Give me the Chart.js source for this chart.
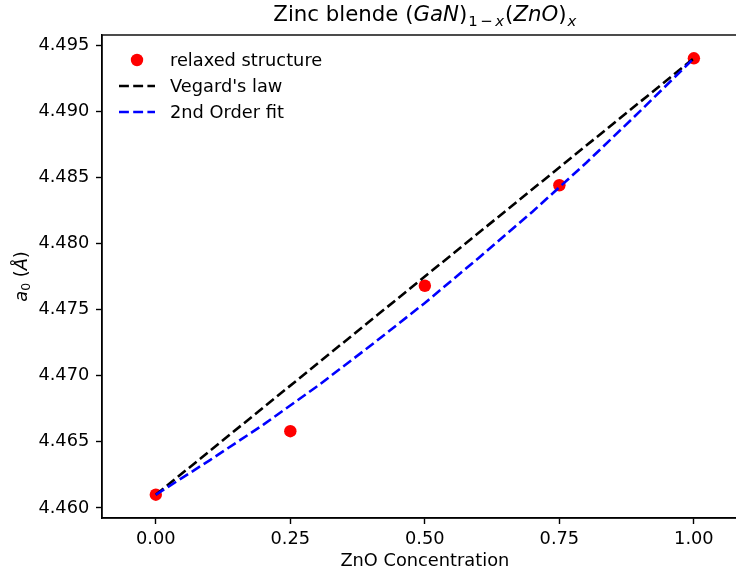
<!DOCTYPE html>
<html>
<head>
<meta charset="utf-8">
<script src="https://cdn.jsdelivr.net/npm/chart.js@4.4.0/dist/chart.umd.min.js"></script>
<style>
  html, body { margin: 0; padding: 0; background: #fff; overflow: hidden; }
  #wrap { width: 736px; height: 577px; overflow: hidden; }
</style>
</head>
<body>
<div id="wrap"><canvas id="chart" width="760" height="577"></canvas></div>
<script>
// Lattice constant data for zinc blende (GaN)1-x(ZnO)x
const concentration = [0, 0.25, 0.5, 0.75, 1.0];
const latticeRelaxed = [4.4610, 4.4658, 4.4768, 4.4844, 4.4940];

// Vegard's law: straight line between the end members
const vegardX = [0, 1.0];
const vegardY = [4.4610, 4.4940];

// 2nd order fit
const fitX = [0, 0.1, 0.2, 0.3, 0.4, 0.5, 0.6, 0.7, 0.8, 0.9, 1.0];
const fitY = [4.4610, 4.4636, 4.4663, 4.4692, 4.4723, 4.4755, 4.4789, 4.4824, 4.4861, 4.4900, 4.4940];

// Tick labels
const xTicks = [0, 0.25, 0.5, 0.75, 1.0];
const yTicks = [4.460, 4.465, 4.470, 4.475, 4.480, 4.485, 4.490, 4.495];

const FONT = "'DejaVu Sans', sans-serif";
const FS = 17.8;          // 10pt text
const DASH = [9.9, 4.3];

function toPoints(xs, ys) {
    return xs.map((x, i) => ({ x: x, y: ys[i] }));
}

// Draws a run of text pieces (normal / italic / subscript) centered on x
function drawRuns(ctx, runs, x, y) {
    let total = 0;
    runs.forEach(r => {
        ctx.font = (r.italic ? 'italic ' : '') + r.size + 'px ' + FONT;
        r.w = ctx.measureText(r.t).width + (r.gap || 0);
        total += r.w;
    });
    let cx = x - total / 2;
    runs.forEach(r => {
        ctx.font = (r.italic ? 'italic ' : '') + r.size + 'px ' + FONT;
        ctx.fillText(r.t, cx, y + (r.dy || 0));
        cx += r.w;
    });
}

const decorations = {
    id: 'decorations',
    afterDraw(chart) {
        const ctx = chart.ctx;
        const a = chart.chartArea;
        ctx.save();

        // axes frame
        ctx.strokeStyle = '#000';
        ctx.lineWidth = 1.4;
        ctx.strokeRect(a.left, a.top, a.right - a.left, a.bottom - a.top);

        ctx.fillStyle = '#000';
        ctx.textAlign = 'left';
        ctx.textBaseline = 'alphabetic';

        // title with math parts
        const T = 21.3, S = 14.9;
        drawRuns(ctx, [
            { t: 'Zinc blende ', size: T },
            { t: '(', size: T },
            { t: 'GaN', size: T, italic: true },
            { t: ')', size: T, gap: 1 },
            { t: '1', size: S, dy: 5, gap: 2.5 },
            { t: '\u2212', size: S, dy: 5, gap: 2.5 },
            { t: 'x', size: S, dy: 5, italic: true, gap: 1 },
            { t: '(', size: T },
            { t: 'ZnO', size: T, italic: true },
            { t: ')', size: T, gap: 1 },
            { t: 'x', size: S, dy: 5, italic: true }
        ], (a.left + a.right) / 2, 21);

        // y axis label
        ctx.save();
        ctx.translate(27, (a.top + a.bottom) / 2);
        ctx.rotate(-Math.PI / 2);
        drawRuns(ctx, [
            { t: 'a', size: FS, italic: true },
            { t: '0', size: 12.5, dy: 3 },
            { t: ' (', size: FS },
            { t: '\u00C5', size: FS, italic: true },
            { t: ')', size: FS }
        ], 0, 0);
        ctx.restore();

        // legend
        const ds = chart.data.datasets;
        const rows = [60, 86, 112];
        ctx.font = FS + 'px ' + FONT;
        ctx.textBaseline = 'middle';
        ds.forEach((d, i) => {
            const y = rows[i];
            if (d.showLine === false) {
                ctx.beginPath();
                ctx.fillStyle = d.pointBackgroundColor;
                ctx.arc(137, y, d.pointRadius, 0, Math.PI * 2);
                ctx.fill();
            } else {
                ctx.beginPath();
                ctx.strokeStyle = d.borderColor;
                ctx.lineWidth = d.borderWidth;
                ctx.setLineDash(d.borderDash);
                ctx.moveTo(119, y);
                ctx.lineTo(155, y);
                ctx.stroke();
                ctx.setLineDash([]);
            }
            ctx.fillStyle = '#000';
            ctx.fillText(d.label, 170, y + 1);
        });

        ctx.restore();
    }
};

const ctx = document.getElementById('chart').getContext('2d');

new Chart(ctx, {
    type: 'line',
    data: {
        datasets: [
            {
                label: 'relaxed structure',
                data: toPoints(concentration, latticeRelaxed),
                showLine: false,
                pointRadius: 6.2,
                pointBackgroundColor: '#ff0000',
                pointBorderWidth: 0,
                order: 3
            },
            {
                label: "Vegard's law",
                data: toPoints(vegardX, vegardY),
                borderColor: '#000000',
                borderWidth: 2.6,
                borderDash: DASH,
                pointRadius: 0,
                tension: 0,
                order: 2
            },
            {
                label: '2nd Order fit',
                data: toPoints(fitX, fitY),
                borderColor: '#0000ff',
                borderWidth: 2.6,
                borderDash: DASH,
                pointRadius: 0,
                tension: 0,
                order: 1
            }
        ]
    },
    options: {
        responsive: false,
        animation: false,
        layout: { padding: { top: 35, right: 12.3, left: 0, bottom: 0 } },
        plugins: {
            legend: { display: false },
            tooltip: { enabled: false },
            title: { display: false }
        },
        scales: {
            x: {
                type: 'linear',
                min: -0.1,
                max: 1.1,
                afterBuildTicks: s => { s.ticks = xTicks.map(v => ({ value: v })); },
                afterFit: s => { s.height = 59; },
                grid: { drawOnChartArea: false, drawTicks: true, tickLength: 6, tickWidth: 1.4, tickColor: '#000' },
                border: { display: true, color: '#000', width: 1.4 },
                ticks: {
                    color: '#000',
                    font: { family: FONT, size: FS },
                    padding: 5,
                    maxRotation: 0,
                    autoSkip: false,
                    callback: v => v.toFixed(2)
                },
                title: {
                    display: true,
                    text: 'ZnO Concentration',
                    color: '#000',
                    font: { family: FONT, size: FS },
                    padding: { top: 0, bottom: 5 }
                }
            },
            y: {
                type: 'linear',
                min: 4.45924,
                max: 4.49576,
                afterBuildTicks: s => { s.ticks = yTicks.map(v => ({ value: v })); },
                afterFit: s => { s.width = 102; },
                grid: { drawOnChartArea: false, drawTicks: true, tickLength: 6, tickWidth: 1.4, tickColor: '#000' },
                border: { display: true, color: '#000', width: 1.4 },
                ticks: {
                    color: '#000',
                    font: { family: FONT, size: FS },
                    padding: 6.7,
                    autoSkip: false,
                    callback: v => v.toFixed(3)
                }
            }
        }
    },
    plugins: [decorations]
});
</script>
</body>
</html>
